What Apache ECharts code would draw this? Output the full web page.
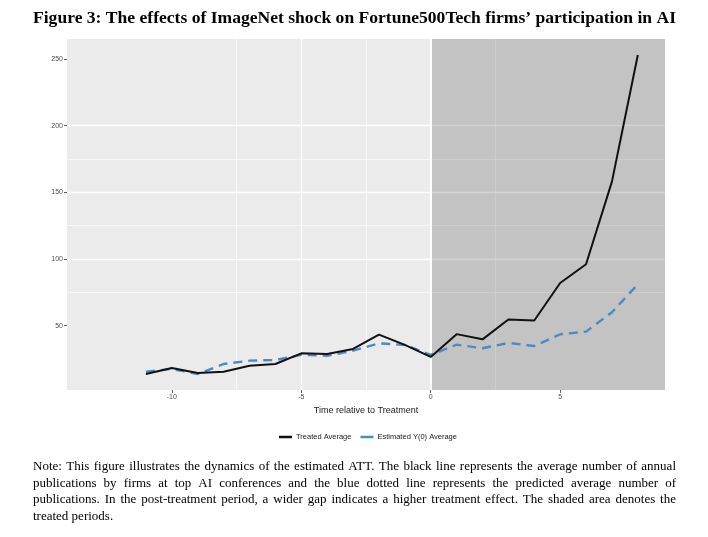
<!DOCTYPE html>
<html>
<head>
<meta charset="utf-8">
<title>Figure 3: ImageNet shock</title>
<script src="https://cdn.jsdelivr.net/npm/echarts@6/dist/echarts.min.js"></script>
<style>
  html, body { margin: 0; padding: 0; background: #fff; }
  #chart { width: 708px; height: 537px; }
</style>
</head>
<body>
<div id="chart"></div>
<script>
// data
const times = [-11, -10, -9, -8, -7, -6, -5, -4, -3, -2, -1, 0, 1, 2, 3, 4, 5, 6, 7, 8];
const treatedAvg = [13.7, 18.2, 14.4, 15.4, 19.9, 21.2, 29.2, 28.7, 32.5, 43.2, 35.5, 26.5, 43.6, 39.7, 54.6, 53.8, 82, 96, 158, 253];
const estimatedAvg = [15.4, 17.5, 13.7, 21.2, 23.7, 24.2, 28, 27.4, 31.2, 36.7, 35.5, 28, 35.7, 33, 37, 34.7, 43.5, 45.5, 60, 81];

const xTicks = [-10, -5, 0, 5];
const xMinorTicks = [-12.5, -7.5, -2.5, 2.5, 7.5];
const yTicks = [50, 100, 150, 200, 250];
const yMinorTicks = [25, 75, 125, 175, 225];

const titleText = 'Figure 3: The effects of ImageNet shock on Fortune500Tech firms\u2019 participation in AI';
const noteLines = [
  'Note: This figure illustrates the dynamics of the estimated ATT. The black line represents the average number of annual',
  'publications by firms at top AI conferences and the blue dotted line represents the predicted average number of',
  'publications. In the post-treatment period, a wider gap indicates a higher treatment effect. The shaded area denotes the',
  'treated periods.',
];

const X_MIN = -14.05, X_MAX = 9.05;
const Y_MIN = 1.7, Y_MAX = 265;

const SERIF = '"Liberation Serif", "Times New Roman", serif';
const SANS = '"Liberation Sans", Arial, sans-serif';

const measureCtx = document.createElement('canvas').getContext('2d');
const textWidth = (text, font) => {
  measureCtx.font = font;
  return measureCtx.measureText(text).width;
};

// title squeezed to the printed width
const TEXT_LEFT = 33, TEXT_RIGHT = 676;
const titleFont = 'bold 17px ' + SERIF;
const titleScale = (TEXT_RIGHT - TEXT_LEFT) / textWidth(titleText, titleFont);

const graphics = [{
  type: 'text',
  left: TEXT_LEFT,
  top: 10,
  scaleX: titleScale,
  style: { text: titleText, font: titleFont, fill: '#000' },
}];

// justified note, one word at a time
const noteFont = '13px ' + SERIF;
noteLines.forEach((line, i) => {
  const y = 460 + i * 16.7;
  const words = line.split(' ');
  const justify = i < noteLines.length - 1;
  const widths = words.map((w) => textWidth(w, noteFont));
  const total = widths.reduce((a, b) => a + b, 0);
  const gap = justify ? (TEXT_RIGHT - TEXT_LEFT - total) / (words.length - 1) : textWidth(' ', noteFont);
  let x = TEXT_LEFT;
  words.forEach((w, k) => {
    graphics.push({
      type: 'text',
      x,
      y,
      style: { text: w, font: noteFont, fill: '#000' },
    });
    x += widths[k] + gap;
  });
});

const toPairs = (values) => times.map((t, i) => [t, values[i]]);

const chart = echarts.init(document.getElementById('chart'), null, { renderer: 'canvas' });

chart.setOption({
  animation: false,
  backgroundColor: '#fff',
  grid: {
    left: 67,
    right: 43,
    top: 39,
    bottom: 147,
    show: true,
    backgroundColor: '#ebebeb',
    borderWidth: 0,
  },
  legend: {
    top: 428,
    left: 274,
    itemWidth: 13,
    itemHeight: 2.5,
    itemGap: 9,
    icon: 'rect',
    textStyle: { fontFamily: SANS, fontSize: 7.5, color: '#1a1a1a', padding: [0, 0, 0, -1] },
    data: ['Treated Average', 'Estimated Y(0) Average'],
  },
  xAxis: [
    {
      type: 'value',
      min: X_MIN,
      max: X_MAX,
      name: 'Time relative to Treatment',
      nameLocation: 'middle',
      nameGap: 15,
      nameTextStyle: { fontFamily: SANS, fontSize: 9, color: '#1a1a1a' },
      axisLine: { show: false, onZero: false },
      axisTick: { show: true, length: 3, customValues: xTicks, lineStyle: { color: '#333', width: 0.8 } },
      axisLabel: { customValues: xTicks, fontFamily: SANS, fontSize: 7, color: '#4d4d4d', margin: 4 },
      splitLine: { show: true, showMinLine: false, showMaxLine: false, lineStyle: { color: '#fff', width: 1.3 } },
    },
    {
      type: 'value',
      min: X_MIN,
      max: X_MAX,
      axisLine: { show: false, onZero: false },
      axisTick: { show: false, customValues: xMinorTicks },
      axisLabel: { show: false, customValues: xMinorTicks },
      splitLine: { show: true, showMinLine: false, showMaxLine: false, lineStyle: { color: '#fff', width: 0.6 } },
    },
  ],
  yAxis: [
    {
      type: 'value',
      min: Y_MIN,
      max: Y_MAX,
      axisLine: { show: false, onZero: false },
      axisTick: { show: true, length: 3, customValues: yTicks, lineStyle: { color: '#333', width: 0.8 } },
      axisLabel: { customValues: yTicks, fontFamily: SANS, fontSize: 7, color: '#4d4d4d', margin: 4 },
      splitLine: { show: true, showMinLine: false, showMaxLine: false, lineStyle: { color: '#fff', width: 1.3 } },
    },
    {
      type: 'value',
      min: Y_MIN,
      max: Y_MAX,
      axisLine: { show: false, onZero: false },
      axisTick: { show: false, customValues: yMinorTicks },
      axisLabel: { show: false, customValues: yMinorTicks },
      splitLine: { show: true, showMinLine: false, showMaxLine: false, lineStyle: { color: '#fff', width: 0.6 } },
    },
  ],
  series: [
    {
      name: 'Estimated Y(0) Average',
      type: 'line',
      data: toPairs(estimatedAvg),
      symbol: 'none',
      itemStyle: { color: '#4a8bc6' },
      lineStyle: { color: '#4a8bc6', width: 2.4, type: [9, 6] },
      markArea: {
        silent: true,
        z: 1,
        itemStyle: { color: 'rgba(0,0,0,0.17)' },
        data: [[{ xAxis: 0 }, { xAxis: X_MAX }]],
      },
      markLine: {
        silent: true,
        z: 1,
        symbol: 'none',
        label: { show: false },
        lineStyle: { color: '#fff', width: 2, type: 'solid' },
        data: [{ xAxis: 0 }],
      },
      z: 3,
    },
    {
      name: 'Treated Average',
      type: 'line',
      data: toPairs(treatedAvg),
      symbol: 'none',
      itemStyle: { color: '#111' },
      lineStyle: { color: '#111', width: 2 },
      z: 4,
    },
  ],
  graphic: graphics,
});
</script>
</body>
</html>
